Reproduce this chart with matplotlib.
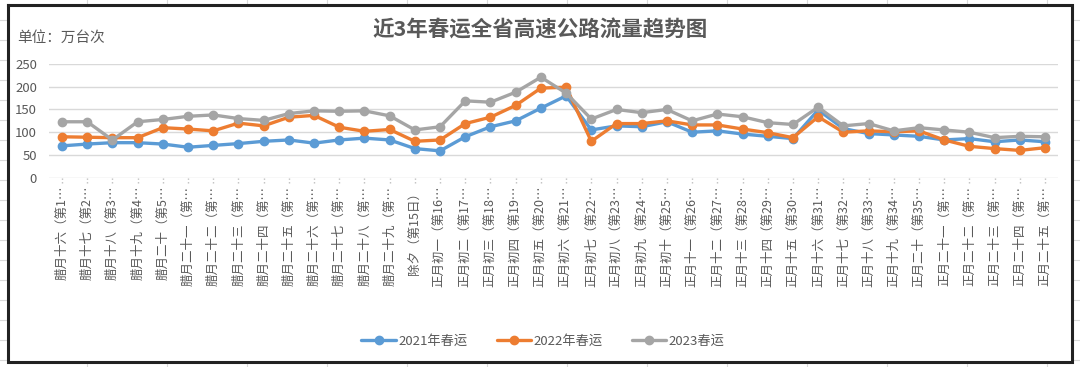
import matplotlib
matplotlib.use("Agg")
import matplotlib.pyplot as plt

plt.rcParams['font.family'] = ['Noto Sans CJK SC', 'DejaVu Sans']

# 日期标签（原图中被截断）
labels = [
    "腊月十六（第1…", "腊月十七（第2…", "腊月十八（第3…", "腊月十九（第4…", "腊月二十（第5…",
    "腊月二十一（第…", "腊月二十二（第…", "腊月二十三（第…", "腊月二十四（第…", "腊月二十五（第…",
    "腊月二十六（第…", "腊月二十七（第…", "腊月二十八（第…", "腊月二十九（第…", "除夕（第15日）",
    "正月初一（第16…", "正月初二（第17…", "正月初三（第18…", "正月初四（第19…", "正月初五（第20…",
    "正月初六（第21…", "正月初七（第22…", "正月初八（第23…", "正月初九（第24…", "正月初十（第25…",
    "正月十一（第26…", "正月十二（第27…", "正月十三（第28…", "正月十四（第29…", "正月十五（第30…",
    "正月十六（第31…", "正月十七（第32…", "正月十八（第33…", "正月十九（第34…", "正月二十（第35…",
    "正月二十一（第…", "正月二十二（第…", "正月二十三（第…", "正月二十四（第…", "正月二十五（第…",
]

y2021 = [70, 74, 77, 77, 74, 67, 71, 75, 80, 83, 76, 83, 87, 83, 64,
         59, 90, 112, 125, 153, 180, 105, 114, 112, 123, 100, 103, 96, 91, 86,
         149, 108, 97, 94, 91, 83, 86, 79, 83, 79]
y2022 = [90, 89, 88, 88, 110, 107, 103, 120, 114, 133, 137, 111, 102, 106, 80,
         83, 119, 133, 159, 197, 199, 80, 119, 119, 125, 116, 116, 107, 99, 88,
         134, 100, 103, 101, 103, 83, 69, 64, 60, 66]
y2023 = [123, 123, 83, 123, 128, 135, 138, 130, 126, 141, 147, 146, 147, 136, 105,
         112, 169, 166, 188, 221, 186, 129, 150, 143, 150, 125, 140, 134, 121, 117,
         155, 114, 119, 103, 110, 105, 100, 88, 91, 90]

series = [("2021年春运", y2021, "#5B9BD5"),
          ("2022年春运", y2022, "#ED7D31"),
          ("2023春运", y2023, "#A5A5A5")]

W, H = 1080, 367
fig = plt.figure(figsize=(W / 100, H / 100), dpi=100, facecolor="white")

# 图表边框 + 边框外的表格线（像素坐标）
bg = fig.add_axes([0, 0, 1, 1])
bg.set_xlim(0, W)
bg.set_ylim(H, 0)
bg.set_axis_off()
for xv in range(87, W - 10, 80):
    bg.plot([xv, xv], [0, 4], color="#d9d9d9", lw=0.8)
    bg.plot([xv, xv], [363, H], color="#d9d9d9", lw=0.8)
for yv in range(20, H, 20):
    bg.plot([0, 7], [yv, yv], color="#d9d9d9", lw=0.8)
    bg.plot([1073, W], [yv, yv], color="#d9d9d9", lw=0.8)
bx = [8, 1072, 1072, 8, 8]
by = [5, 5, 362, 362, 5]
bg.plot(bx, by, color="#222222", lw=2.2, solid_joinstyle="miter")

ax = fig.add_axes([49.4 / W, 1 - 177.7 / H, (1057.6 - 49.4) / W, 113.7 / H])
ax.patch.set_alpha(0)

x = list(range(len(labels)))
for name, vals, col in series:
    ax.plot(x, vals, color=col, lw=2.4, marker="o", ms=6, label=name,
            solid_capstyle="round", clip_on=False)

ax.set_xlim(-0.5, len(labels) - 0.5)
ax.set_ylim(0, 250)
ax.set_yticks([0, 50, 100, 150, 200, 250])
ax.grid(axis="y", color="#d9d9d9", lw=1)
ax.set_axisbelow(True)
for s in ax.spines.values():
    s.set_visible(False)

ax.set_xticks(x)
ax.set_xticklabels(labels, rotation=90, fontsize=9, color="#595959")
ax.tick_params(axis="x", length=0, pad=6)
ax.tick_params(axis="y", length=0, pad=9, labelsize=9.5, labelcolor="#595959")
ax.vlines(x, -0.045, 0, transform=ax.get_xaxis_transform(), colors="#bfbfbf",
          linestyles=":", lw=1, clip_on=False)

fig.text(540 / W, 1 - 30 / H, "近3年春运全省高速公路流量趋势图", ha="center", va="center",
         fontsize=15.5, fontweight="bold", color="#595959")
fig.text(17 / W, 1 - 38 / H, "单位：万台次", ha="left", va="center",
         fontsize=10.5, color="#595959")

fig.legend(loc="center", bbox_to_anchor=(543 / W, 1 - 341 / H), ncol=3,
           frameon=False, fontsize=9.5, labelcolor="#595959", handlelength=2.6,
           handletextpad=0.2, columnspacing=2.2)

fig.savefig("out.png", dpi=100, facecolor="white")
